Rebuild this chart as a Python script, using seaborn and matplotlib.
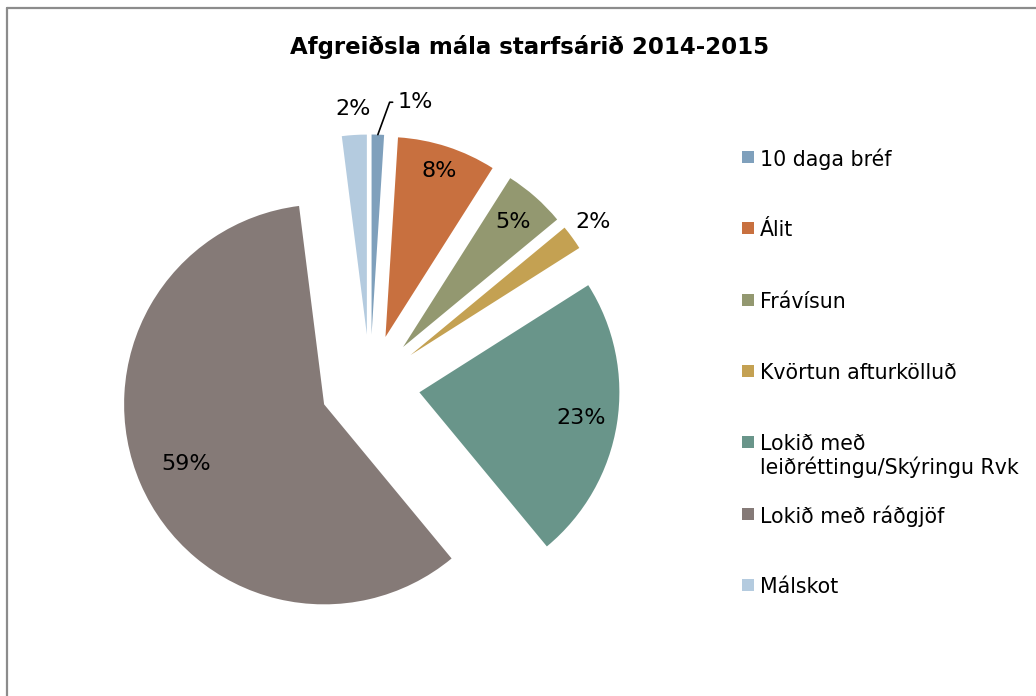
import matplotlib.pyplot as plt
import numpy as np
import seaborn as sns
from matplotlib.lines import Line2D
from matplotlib.patches import Rectangle

# data
categories = ["10 daga bréf", "Álit", "Frávísun", "Kvörtun afturkölluð",
              "Lokið með\nleiðréttingu/Skýringu Rvk", "Lokið með ráðgjöf", "Málskot"]
shares = [1, 8, 5, 2, 23, 59, 2]
pct_labels = ["1%", "8%", "5%", "2%", "23%", "59%", "2%"]
colors = ["#7fa0bc", "#c8703f", "#939870", "#c4a152", "#69958a", "#857a77", "#b4cbdf"]

sns.set_theme(style="white")
plt.rcParams["font.family"] = ["DejaVu Sans"]

fig = plt.figure(figsize=(10.36, 6.96), dpi=100)
W, H = 1036, 696
# pie centre (370, 384.5) px, radius 200 px, axes spans +-1.5
ax = fig.add_axes([(370 - 300) / W, (H - 384.5 - 300) / H, 600 / W, 600 / H])

explode = [0.25] * len(shares)
wedges, _ = ax.pie(shares, colors=colors, explode=explode, startangle=90,
                   counterclock=False, radius=1.0,
                   wedgeprops={"linewidth": 0})
ax.set_xlim(-1.5, 1.5)
ax.set_ylim(-1.5, 1.5)
ax.set_aspect("equal")
ax.axis("off")

# label distance (from slice apex), outside labels > 1
label_r = [None, 0.87, 0.83, 1.13, 0.82, 0.75, 1.13]
for i, w in enumerate(wedges):
    th = np.deg2rad((w.theta1 + w.theta2) / 2)
    cx, cy = w.center
    if label_r[i] is None:
        # tiny slice: label with a leader line
        px, py = cx + np.cos(th), cy + np.sin(th)
        ax.annotate(pct_labels[i], xy=(px, py), xytext=(14, 19),
                    textcoords="offset points", ha="left", va="baseline",
                    fontsize=16, color="black",
                    arrowprops=dict(arrowstyle="-", color="black", lw=1.2,
                                    shrinkA=1, shrinkB=0,
                                    connectionstyle="angle,angleA=0,angleB=70,rad=0"))
        continue
    r = label_r[i]
    ax.text(cx + r * np.cos(th), cy + r * np.sin(th), pct_labels[i],
            ha="center", va="center", fontsize=16, color="black")

fig.text(530 / W, 1 - 47 / H, "Afgreiðsla mála starfsárið 2014-2015",
         ha="center", va="center", fontsize=16.5, fontweight="bold", color="black")

# legend, Excel style: first lines evenly spaced, wrapped text overflows down
leg_top, leg_step = 157, (585 - 157) / 6
for i, (lab, c) in enumerate(zip(categories, colors)):
    y = leg_top + i * leg_step
    fig.add_artist(Rectangle((742 / W, 1 - (y + 6) / H), 12 / W, 12 / H,
                             transform=fig.transFigure, facecolor=c, edgecolor="none"))
    fig.text(760 / W, 1 - (y - 8) / H, lab, ha="left", va="top",
             fontsize=14.8, color="black", linespacing=1.1)

# chart frame (left and top edges visible)
fig.add_artist(Line2D([7 / W, 7 / W], [0, 1 - 8 / H], transform=fig.transFigure,
                      color="#8c8c8c", lw=1.6))
fig.add_artist(Line2D([7 / W, 1], [1 - 8 / H, 1 - 8 / H], transform=fig.transFigure,
                      color="#8c8c8c", lw=1.6))

fig.savefig("out.png", dpi=100)
